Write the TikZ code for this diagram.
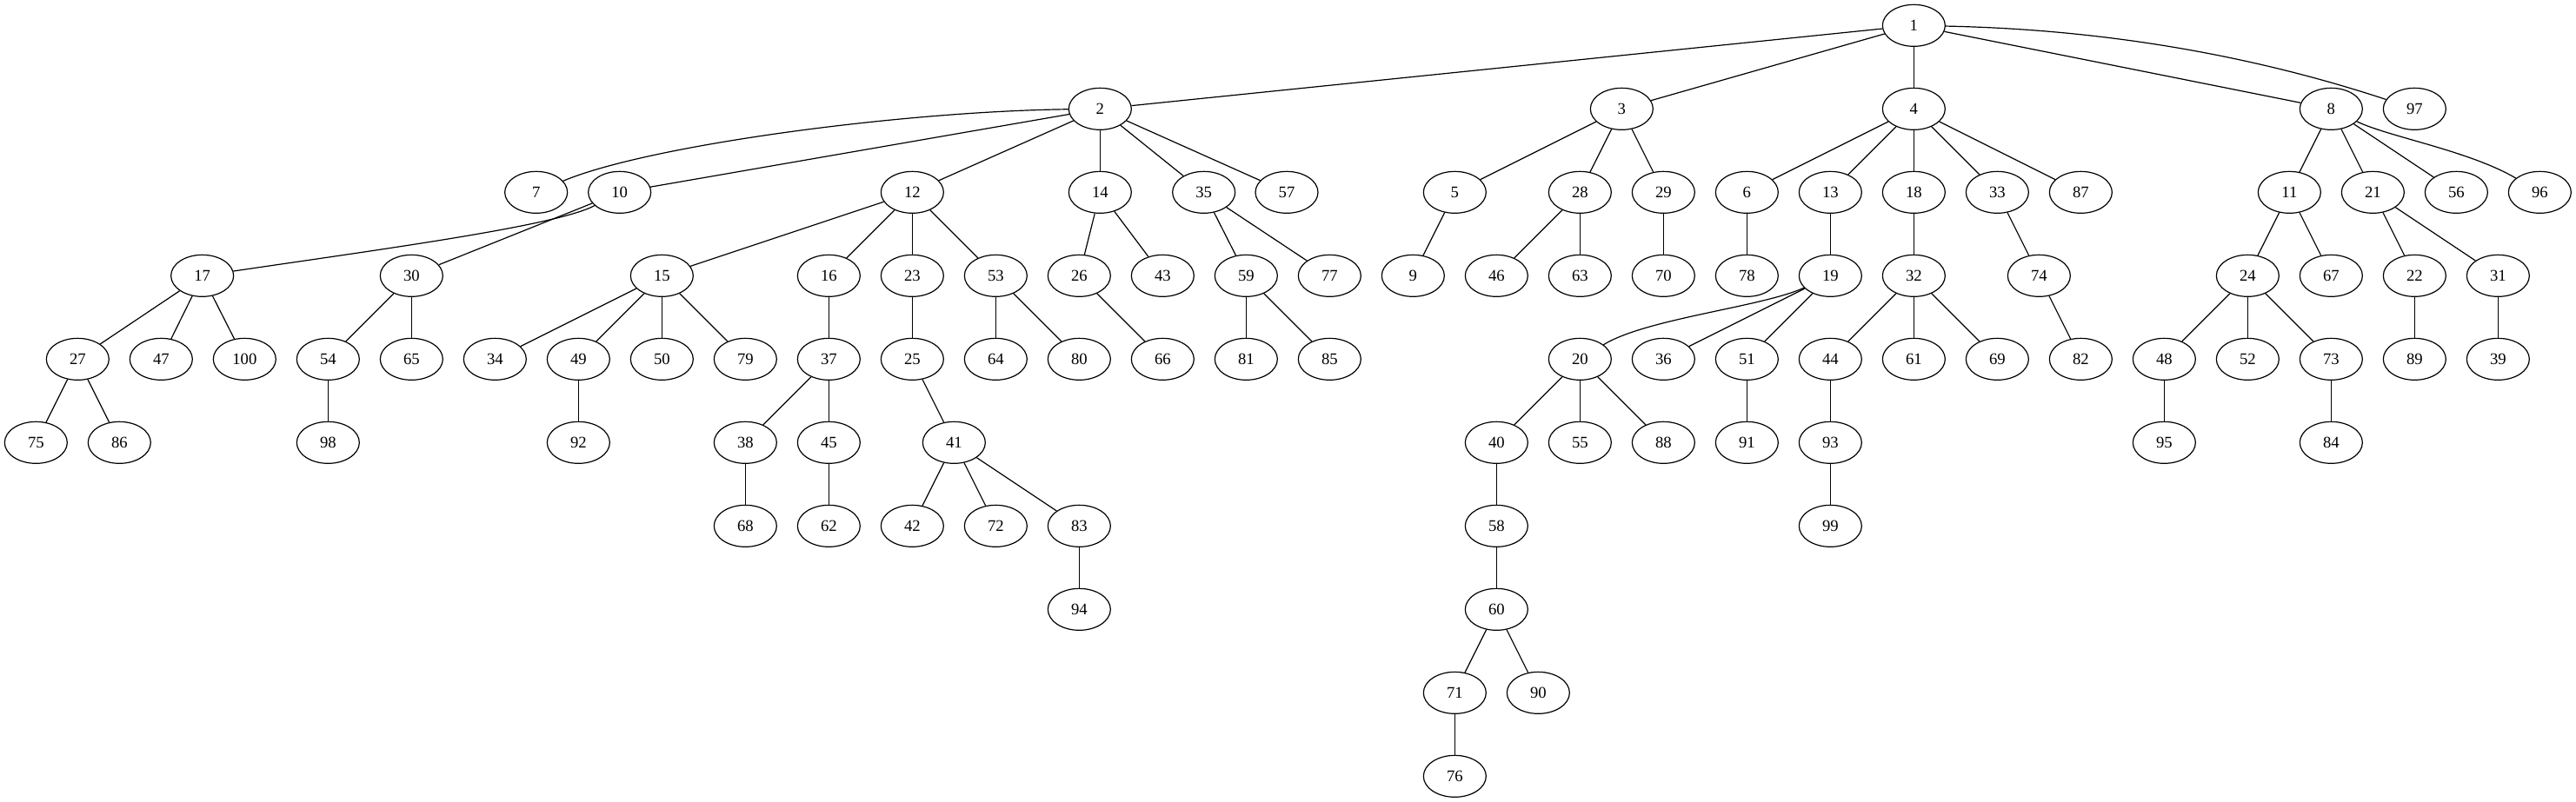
\documentclass[tikz,border=0pt]{standalone}
\usepackage{fontspec}
\setmainfont{Liberation Serif}
\usetikzlibrary{shapes.geometric}
\tikzset{
  nd/.style={draw, ellipse, minimum width=54pt, minimum height=36pt, inner sep=0pt, line width=0.9pt, font=\fontsize{14}{16}\selectfont},
  edge/.style={line width=0.9pt}
}
\begin{document}
\begin{tikzpicture}[x=1pt, y=-1pt]
\useasboundingbox (0,0) rectangle (2222.25,692.25);
\foreach \n/\x/\y in {
 1/1651/22,
 2/949/94, 3/1399/94, 4/1651/94, 8/2011/94, 97/2083/94,
 7/462.5/166, 10/534.5/166, 12/787/166, 14/949/166, 35/1038.5/166, 57/1110/166, 5/1255/166, 28/1363/166, 29/1435/166, 6/1507/166, 13/1579/166, 18/1651/166, 33/1723/166, 87/1795/166, 11/1975/166, 21/2047/166, 56/2119/166, 96/2191/166,
 17/174.5/238, 30/355/238, 15/571/238, 16/715/238, 23/787/238, 53/859/238, 26/931/238, 43/1003/238, 59/1075/238, 77/1147/238, 9/1219/238, 46/1291/238, 63/1363/238, 70/1435/238, 78/1507/238, 19/1579/238, 32/1651/238, 74/1759/238, 24/1939/238, 67/2011/238, 22/2083/238, 31/2155/238,
 27/67/310, 47/139/310, 100/211/310, 54/283/310, 65/355/310, 34/427/310, 49/499/310, 50/571/310, 79/643/310, 37/715/310, 25/787/310, 64/859/310, 80/931/310, 66/1003/310, 81/1075/310, 85/1147/310, 20/1363/310, 36/1435/310, 51/1507/310, 44/1579/310, 61/1651/310, 69/1723/310, 82/1795/310, 48/1867/310, 52/1939/310, 73/2011/310, 89/2083/310, 39/2155/310,
 75/31/382, 86/103/382, 98/283/382, 92/499/382, 38/643/382, 45/715/382, 41/823/382, 40/1291/382, 55/1363/382, 88/1435/382, 91/1507/382, 93/1579/382, 95/1867/382, 84/2011/382,
 68/643/454, 62/715/454, 42/787/454, 72/859/454, 83/931/454, 58/1291/454, 99/1579/454,
 94/931/526, 60/1291/526,
 71/1255/598, 90/1327/598,
 76/1255/670}
 \node[nd] (n\n) at (\x,\y) {\n};
\foreach \a/\b in {
 1/2, 1/3, 1/4, 1/8,
 2/10, 2/12, 2/14, 2/35, 2/57,
 3/5, 3/28, 3/29,
 4/6, 4/13, 4/18, 4/33, 4/87,
 8/11, 8/21, 8/56,
 10/30,
 12/15, 12/16, 12/23, 12/53,
 14/26, 14/43,
 35/59, 35/77,
 5/9, 28/46, 28/63, 29/70, 6/78, 13/19, 18/32, 33/74,
 11/24, 11/67, 21/22, 21/31,
 17/27, 17/47, 17/100, 30/54, 30/65,
 15/34, 15/49, 15/50, 15/79,
 16/37, 23/25, 53/64, 53/80, 26/66, 59/81, 59/85,
 19/36, 19/51, 32/44, 32/61, 32/69, 74/82,
 24/48, 24/52, 24/73, 22/89, 31/39,
 27/75, 27/86, 54/98, 49/92, 37/38, 37/45, 25/41,
 20/40, 20/55, 20/88, 51/91, 44/93, 48/95, 73/84,
 38/68, 45/62, 41/42, 41/72, 41/83, 40/58, 93/99,
 83/94, 58/60, 60/71, 60/90, 71/76}
 \draw[edge] (n\a) -- (n\b);
\draw[edge] (n1) .. controls (1850,26) and (1980,60) .. (n97);
\draw[edge] (n2) .. controls (780,96) and (560,125) .. (n7);
\draw[edge] (n10) .. controls (480,195) and (330,215) .. (n17);
\draw[edge] (n19) .. controls (1520,265) and (1420,275) .. (n20);
\draw[edge] (n8) .. controls (2060,118) and (2130,130) .. (n96);
\end{tikzpicture}
\end{document}
